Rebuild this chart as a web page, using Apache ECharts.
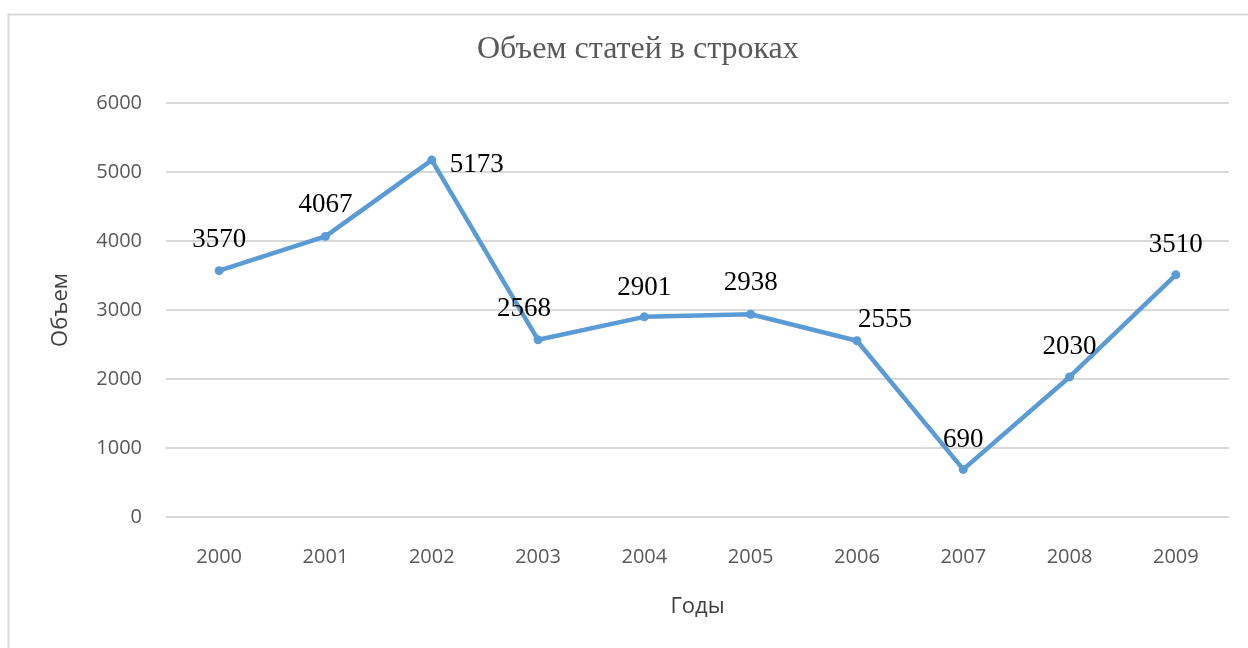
<!DOCTYPE html>
<html>
<head>
<meta charset="utf-8">
<script src="https://cdn.jsdelivr.net/npm/echarts@6/dist/echarts.min.js"></script>
<style>
html,body{margin:0;padding:0;background:#fff;}
#c{width:1248px;height:648px;}
</style>
</head>
<body>
<div id="c"></div>
<script>
const years = ['2000','2001','2002','2003','2004','2005','2006','2007','2008','2009'];
const volumes = [3570, 4067, 5173, 2568, 2901, 2938, 2555, 690, 2030, 3510];
const labelOffsets = [[0,-31],[0,-31],[45,5],[-14,-31],[0,-29],[0,-31],[28,-21],[0,-29],[0,-30],[0,-30]];
const yTicks = [0, 1000, 2000, 3000, 4000, 5000, 6000];

const SYM = 9;
const chart = echarts.init(document.getElementById('c'), null, {renderer:'canvas'});
chart.setOption({
  backgroundColor: '#fff',
  animation: false,
  graphic: [{
    type: 'rect', silent: true, z: -1,
    shape: {x: 8.5, y: 14.5, width: 1300, height: 700},
    style: {fill: 'none', stroke: '#d9d9d9', lineWidth: 2}
  }],
  title: {
    text: 'Объем статей в строках',
    left: 472, top: 29,
    textStyle: {fontFamily: 'Liberation Serif', fontWeight: 'normal', fontSize: 32, color: '#595959'}
  },
  grid: {left: 166, right: 19, top: 103, bottom: 131, containLabel: false},
  xAxis: {
    type: 'category', data: years, boundaryGap: true,
    axisLine: {show: true, lineStyle: {color: '#d9d9d9', width: 1}},
    axisTick: {show: false},
    axisLabel: {margin: 30, fontFamily: 'Open Sans', fontSize: 20, color: '#595959'},
    name: 'Годы', nameLocation: 'middle', nameGap: 79,
    nameTextStyle: {fontFamily: 'Open Sans', fontSize: 22, color: '#404040'}
  },
  yAxis: {
    type: 'value', min: 0, max: 6000, interval: 1000,
    axisLine: {show: false}, axisTick: {show: false},
    splitLine: {lineStyle: {color: '#d9d9d9', width: 2}},
    axisLabel: {margin: 24, fontFamily: 'Open Sans', fontSize: 20, color: '#595959',
      formatter: v => yTicks.includes(v) ? String(v) : ''},
    name: 'Объем', nameLocation: 'middle', nameGap: 94, nameRotate: 90,
    nameTextStyle: {fontFamily: 'Open Sans', fontSize: 22, color: '#404040'}
  },
  series: [{
    type: 'line',
    data: volumes.map((v, i) => ({
      value: v,
      label: {position: [SYM / 2 + labelOffsets[i][0], SYM / 2 + labelOffsets[i][1]]}
    })),
    symbol: 'circle', symbolSize: SYM,
    lineStyle: {color: '#5b9bd5', width: 4.5},
    itemStyle: {color: '#5b9bd5'},
    label: {
      show: true, align: 'center', verticalAlign: 'middle',
      fontFamily: 'Liberation Serif', fontSize: 27, color: '#000'
    },
    labelLayout: {hideOverlap: false}
  }]
});
</script>
</body>
</html>
